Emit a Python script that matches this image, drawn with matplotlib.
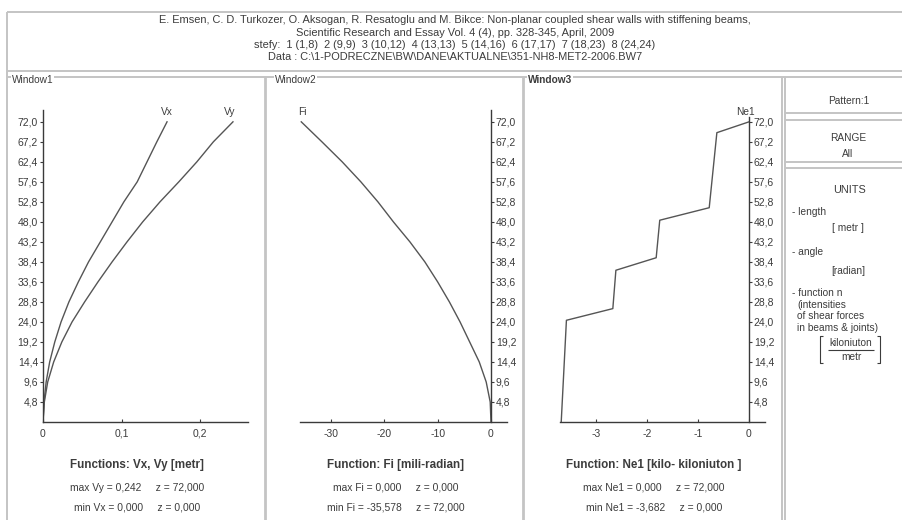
import matplotlib
matplotlib.use('Agg')
import matplotlib.pyplot as plt

plt.rcParams['font.family'] = ['Liberation Sans', 'DejaVu Sans']

# ---------------- data ----------------
z = [0.0, 4.8, 9.6, 14.4, 19.2, 24.0, 28.8, 33.6, 38.4, 43.2, 48.0, 52.8, 57.6, 62.4, 67.2, 72.0]
vx = [0.0, 0.0013, 0.004, 0.0085, 0.015, 0.023, 0.033, 0.045, 0.058, 0.073, 0.088, 0.103, 0.120, 0.1325, 0.145, 0.158]
vy = [0.0, 0.0017, 0.006, 0.0136, 0.024, 0.037, 0.053, 0.070, 0.088, 0.107, 0.127, 0.149, 0.173, 0.196, 0.217, 0.242]
fi = [0.0, -0.15, -0.9, -2.2, -4.0, -5.8, -7.8, -10.0, -12.4, -15.2, -18.3, -21.2, -24.4, -27.9, -31.7, -35.578]

z_ne = [0.0, 24.4, 27.2, 36.4, 39.4, 48.4, 51.4, 69.4, 72.0]
ne1 = [-3.682, -3.58, -2.67, -2.61, -1.82, -1.75, -0.78, -0.63, 0.0]

z_ticks = [4.8, 9.6, 14.4, 19.2, 24.0, 28.8, 33.6, 38.4, 43.2, 48.0, 52.8, 57.6, 62.4, 67.2, 72.0]
z_labels = ['4,8', '9,6', '14,4', '19,2', '24,0', '28,8', '33,6', '38,4', '43,2', '48,0',
            '52,8', '57,6', '62,4', '67,2', '72,0']
v_ticks = [0.0, 0.1, 0.2]
v_labels = ['0', '0,1', '0,2']
fi_ticks = [-30, -20, -10, 0]
fi_labels = ['-30', '-20', '-10', '0']
ne_ticks = [-3, -2, -1, 0]
ne_labels = ['-3', '-2', '-1', '0']

header = ['E. Emsen, C. D. Turkozer, O. Aksogan, R. Resatoglu and M. Bikce: Non-planar coupled shear walls with stiffening beams,',
          'Scientific Research and Essay Vol. 4 (4), pp. 328-345, April, 2009',
          'stefy:  1 (1,8)  2 (9,9)  3 (10,12)  4 (13,13)  5 (14,16)  6 (17,17)  7 (18,23)  8 (24,24)',
          'Data : C:\\1-PODRECZNE\\BW\\DANE\\AKTUALNE\\351-NH8-MET2-2006.BW7']

# ---------------- layout ----------------
W, H = 903, 520
fig = plt.figure(figsize=(W / 100, H / 100), dpi=100)
fig.patch.set_facecolor('white')

bg = fig.add_axes([0, 0, 1, 1])
bg.set_xlim(0, W)
bg.set_ylim(H, 0)
bg.axis('off')

FR = '#c4c4c4'
TXT = '#3c3c3c'
AX = '#3a3a3a'
LN = '#555555'


def line(xs, ys, lw=1.4, c=FR):
    bg.plot(xs, ys, color=c, lw=lw, solid_capstyle='butt')


# header box
line([7, W], [12, 12])
line([7, 7], [12, H])
line([7, W], [71, 71])
line([7, W], [77, 77])
for i, t in enumerate(header):
    bg.text(455, [20, 33, 45, 57][i], t, ha='center', va='center', fontsize=7.9, color=TXT)

# window dividers
line([265, 265], [77, H], lw=2)
line([523, 523], [77, H], lw=2)
line([782, 782], [77, H], lw=1.4)
line([785, 785], [77, H], lw=1.4)

# right panel boxes
line([785, W], [113, 113])
line([785, W], [120, 120])
line([785, W], [162, 162])
line([785, W], [168, 168])

for x, t, bold in [(12, 'Window1', False), (275, 'Window2', False), (528, 'Window3', True)]:
    bg.text(x, 80, t, ha='left', va='center', fontsize=7.3, color=TXT,
            fontweight='bold' if bold else 'normal',
            bbox=dict(facecolor='white', edgecolor='none', pad=0.6))

# right panel text
RS = 7.3
bg.text(849, 101, 'Pattern:1', ha='center', va='center', fontsize=RS, color=TXT)
bg.text(848, 138, 'RANGE', ha='center', va='center', fontsize=RS, color=TXT)
bg.text(848, 154, 'All', ha='center', va='center', fontsize=RS, color=TXT)
bg.text(850, 190, 'UNITS', ha='center', va='center', fontsize=7.8, color=TXT)
bg.text(792, 212, '- length', ha='left', va='center', fontsize=RS, color=TXT)
bg.text(848, 228, '[ metr ]', ha='center', va='center', fontsize=RS, color=TXT)
bg.text(792, 252, '- angle', ha='left', va='center', fontsize=RS, color=TXT)
bg.text(848, 271, '[radian]', ha='center', va='center', fontsize=RS, color=TXT)
bg.text(792, 293, '- function n', ha='left', va='center', fontsize=RS, color=TXT)
bg.text(797, 305, '(intensities', ha='left', va='center', fontsize=RS, color=TXT)
bg.text(797, 316, 'of shear forces', ha='left', va='center', fontsize=RS, color=TXT)
bg.text(797, 328, 'in beams & joints)', ha='left', va='center', fontsize=RS, color=TXT)
bg.text(851, 343, 'kiloniuton', ha='center', va='center', fontsize=RS, color=TXT)
line([828, 874], [350, 350], lw=0.8, c=TXT)
bg.text(851, 357, 'metr', ha='center', va='center', fontsize=RS, color=TXT)
# brackets
line([823, 820, 820, 823], [336, 336, 363, 363], lw=0.8, c=TXT)
line([877, 880, 880, 877], [336, 336, 363, 363], lw=0.8, c=TXT)

# bottom texts
for cx, title, l1, l2 in [
        (137, 'Functions: Vx, Vy [metr]', 'max Vy = 0,242     z = 72,000', 'min Vx = 0,000     z = 0,000'),
        (396, 'Function: Fi [mili-radian]', 'max Fi = 0,000     z = 0,000', 'min Fi = -35,578     z = 72,000'),
        (654, 'Function: Ne1 [kilo- kiloniuton ]', 'max Ne1 = 0,000     z = 72,000', 'min Ne1 = -3,682     z = 0,000')]:
    bg.text(cx, 465, title, ha='center', va='center', fontsize=8.4, fontweight='bold', color=TXT)
    bg.text(cx, 488, l1, ha='center', va='center', fontsize=7.4, color=TXT)
    bg.text(cx, 507, l2, ha='center', va='center', fontsize=7.4, color=TXT)


def px_axes(x0, x1, y0, y1):
    a = fig.add_axes([x0 / W, 1 - y1 / H, (x1 - x0) / W, (y1 - y0) / H])
    a.patch.set_alpha(0)
    return a


YTOP = (422 - 110) / 4.169


def style(a, side):
    for s in a.spines.values():
        s.set_visible(False)
    a.spines['bottom'].set_visible(True)
    a.spines[side].set_visible(True)
    a.spines['bottom'].set_color(AX)
    a.spines[side].set_color(AX)
    a.spines['bottom'].set_linewidth(1.0)
    a.spines[side].set_linewidth(1.0)
    a.set_ylim(0, YTOP)
    a.set_yticks(z_ticks)
    a.set_yticklabels(z_labels)
    a.tick_params(axis='y', direction='out', length=2.5, width=0.8, pad=1,
                  labelsize=7.5, colors=TXT)
    a.tick_params(axis='x', direction='in', length=2.5, width=0.8, pad=5,
                  labelsize=7.5, colors=TXT)


# Window1
ax1 = px_axes(43, 248, 110, 422)
style(ax1, 'left')
ax1.set_xlim(0, (248 - 43) / 785)
ax1.set_xticks(v_ticks)
ax1.set_xticklabels(v_labels)
ax1.plot(vx, z, color=LN, lw=1.0)
ax1.plot(vy, z, color=LN, lw=1.0)
ax1.annotate('Vx', (vx[-1], z[-1]), xytext=(0, 10), textcoords='offset pixels',
             ha='center', va='center', fontsize=7.3, color=TXT)
ax1.annotate('Vy', (vy[-1], z[-1]), xytext=(-3, 10), textcoords='offset pixels',
             ha='center', va='center', fontsize=7.3, color=TXT)

# Window2
ax2 = px_axes(300, 507, 110, 422)
style(ax2, 'right')
ax2.set_xlim((300 - 491) / 5.333, (507 - 491) / 5.333)
ax2.spines['right'].set_position(('data', 0))
ax2.yaxis.tick_right()
ax2.set_xticks(fi_ticks)
ax2.set_xticklabels(fi_labels)
ax2.plot(fi, z, color=LN, lw=1.0)
ax2.annotate('Fi', (fi[-1], z[-1]), xytext=(1, 10), textcoords='offset pixels',
             ha='center', va='center', fontsize=7.3, color=TXT)

# Window3
ax3 = px_axes(560, 765, 110, 422)
style(ax3, 'right')
ax3.set_xlim((560 - 749) / 51.0, (765 - 749) / 51.0)
ax3.spines['right'].set_position(('data', 0))
ax3.spines['right'].set_bounds(0, 73.2)
ax3.yaxis.tick_right()
ax3.set_xticks(ne_ticks)
ax3.set_xticklabels(ne_labels)
ax3.plot(ne1, z_ne, color=LN, lw=1.0)
ax3.annotate('Ne1', (ne1[-1], z_ne[-1]), xytext=(-4, 10), textcoords='offset pixels',
             ha='center', va='center', fontsize=7.3, color=TXT)

fig.savefig('out.png', dpi=100, facecolor='white')
